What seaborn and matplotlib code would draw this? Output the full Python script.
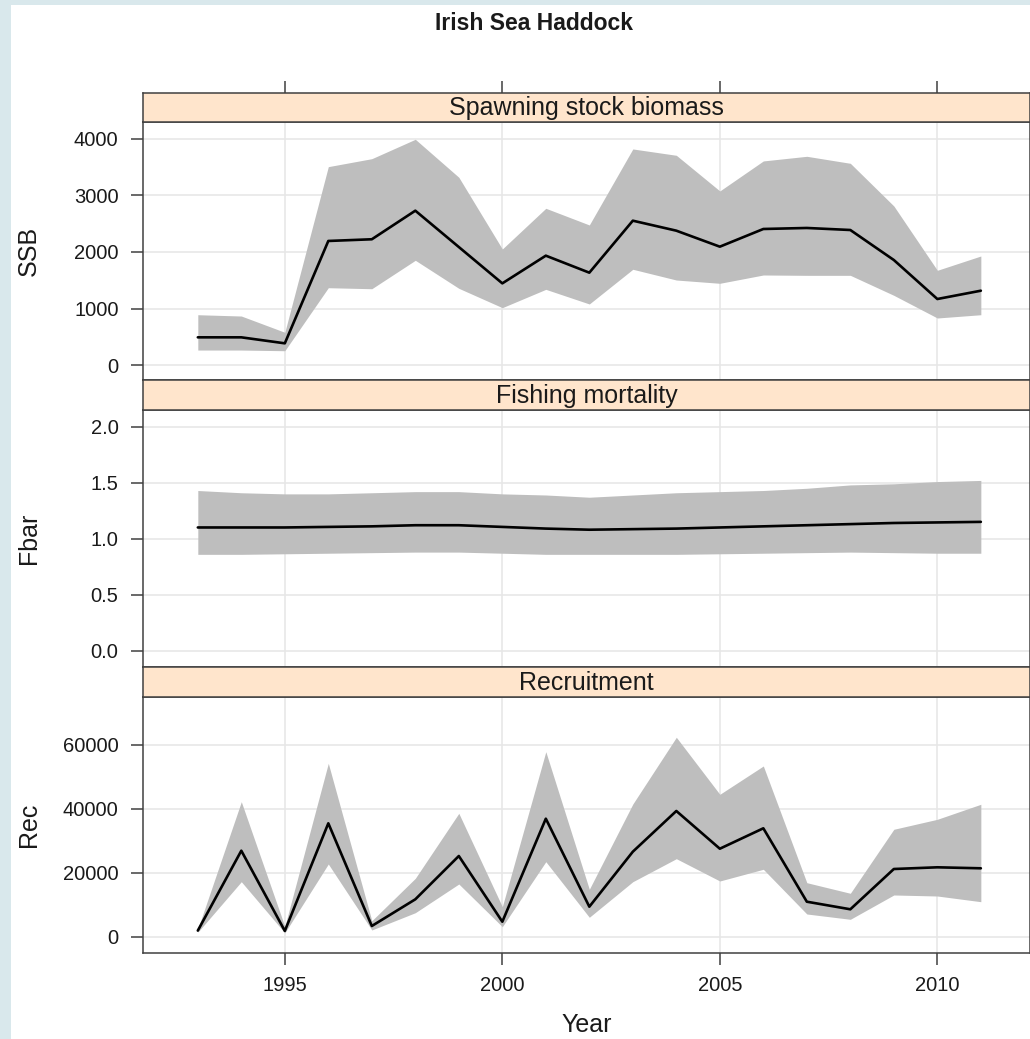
import matplotlib
matplotlib.use('Agg')
import matplotlib.pyplot as plt
from matplotlib.patches import Rectangle
import pandas as pd
import seaborn as sns

# данные
years = list(range(1993, 2012))

ssb = [490, 490, 384, 2195, 2225, 2731, 2088, 1445, 1935, 1634, 2554, 2377, 2094, 2407, 2425, 2389, 1858, 1168, 1315]
ssb_hi = [890, 867, 579, 3510, 3651, 3994, 3322, 2053, 2773, 2478, 3823, 3711, 3080, 3611, 3693, 3569, 2814, 1676, 1929]
ssb_lo = [265, 265, 253, 1368, 1350, 1853, 1357, 1015, 1339, 1080, 1694, 1504, 1446, 1593, 1587, 1587, 1233, 832, 890]

fbar = [1.10, 1.10, 1.10, 1.105, 1.11, 1.12, 1.12, 1.105, 1.09, 1.08, 1.085, 1.09, 1.10, 1.11, 1.12, 1.13, 1.14, 1.145, 1.15]
fbar_hi = [1.43, 1.41, 1.40, 1.40, 1.41, 1.42, 1.42, 1.40, 1.39, 1.37, 1.39, 1.41, 1.42, 1.43, 1.45, 1.48, 1.49, 1.51, 1.52]
fbar_lo = [0.86, 0.86, 0.865, 0.87, 0.875, 0.88, 0.88, 0.87, 0.86, 0.86, 0.86, 0.86, 0.865, 0.87, 0.875, 0.88, 0.875, 0.87, 0.87]

rec = [2000, 26970, 1900, 35530, 3440, 11780, 25310, 4780, 36970, 9470, 26660, 39380, 27590, 33970, 11030, 8660, 21250, 21780, 21470]
rec_hi = [2500, 42280, 3300, 54280, 5090, 18340, 38650, 9470, 57910, 14910, 41560, 62410, 44590, 53440, 16970, 13660, 33660, 36780, 41470]
rec_lo = [1500, 17280, 1300, 22810, 2190, 7590, 16560, 3220, 23530, 6160, 17280, 24470, 17500, 21160, 7190, 5530, 13130, 12810, 11030]

panel_names = ['Spawning stock biomass', 'Fishing mortality', 'Recruitment']
panel_ylabels = ['SSB', 'Fbar', 'Rec']
x_ticks = [1995, 2000, 2005, 2010]

sns.set_theme(style='white')
plt.rcParams['font.family'] = ['Liberation Sans', 'DejaVu Sans']

W, H = 1030, 1039
fig = plt.figure(figsize=(W / 100, H / 100), dpi=100)
fig.patch.set_facecolor('#d9e8ec')
fig.add_artist(Rectangle((11 / W, 0), 1, 1 - 5 / H, transform=fig.transFigure,
                         facecolor='white', edgecolor='none', zorder=-10))

EDGE = '#404040'
GRID = '#e6e6e6'
BAND = '#bebebe'
STRIP = '#ffe5cc'
xlim = (1991.74, 2012.13)

df = pd.DataFrame({'year': years,
                   'SSB': ssb, 'SSB_hi': ssb_hi, 'SSB_lo': ssb_lo,
                   'Fbar': fbar, 'Fbar_hi': fbar_hi, 'Fbar_lo': fbar_lo,
                   'Rec': rec, 'Rec_hi': rec_hi, 'Rec_lo': rec_lo})

# (панель верх, низ, полоска верх) в пикселях
rows = [(122, 380, 93), (410, 667, 380), (697, 953, 667)]
ylims = [(-265, 4300), (-0.146, 2.149), (-5000, 75000)]
yticks = [[0, 1000, 2000, 3000, 4000], [0.0, 0.5, 1.0, 1.5, 2.0], [0, 20000, 40000, 60000]]
ylabfmt = ['{:.0f}', '{:.1f}', '{:.0f}']

left = 143 / W
width = 1 - left

for i, (top, bot, stop) in enumerate(rows):
    var = panel_ylabels[i]
    ax = fig.add_axes([left, 1 - bot / H, width, (bot - top) / H])
    ax.fill_between(df['year'], df[var + '_lo'], df[var + '_hi'], color=BAND, lw=0, zorder=2)
    sns.lineplot(data=df, x='year', y=var, ax=ax, color='black', linewidth=1.9, zorder=3)
    ax.set_xlim(*xlim)
    ax.set_ylim(*ylims[i])
    ax.set_xticks(x_ticks)
    ax.set_yticks(yticks[i])
    ax.set_yticklabels([ylabfmt[i].format(v) for v in yticks[i]])
    ax.grid(True, color=GRID, linewidth=1.1)
    ax.set_axisbelow(True)
    for s in ax.spines.values():
        s.set_color(EDGE)
        s.set_linewidth(1.1)
    ax.tick_params(axis='y', left=True, right=False, direction='out', length=8.6, width=1.1,
                   color=EDGE, pad=9, labelsize=14.5, labelcolor='#1a1a1a')
    ax.set_ylabel(var, fontsize=18, color='#1a1a1a')
    ax.yaxis.set_label_coords(-0.115, 0.5)
    if i == 2:
        ax.tick_params(axis='x', bottom=True, direction='out', length=8.6, width=1.1,
                       color=EDGE, pad=8, labelsize=14.5, labelcolor='#1a1a1a')
        ax.set_xlabel('Year', fontsize=18, color='#1a1a1a')
        ax.xaxis.set_label_coords(0.5, -0.234)
        ax.xaxis.label.set_va('top')
    else:
        ax.tick_params(axis='x', bottom=False, labelbottom=False)
        ax.set_xlabel('')

    # полоска с названием панели
    sax = fig.add_axes([left, 1 - top / H, width, (top - stop) / H])
    sax.set_facecolor(STRIP)
    sax.set_xlim(*xlim)
    sax.set_yticks([])
    for s in sax.spines.values():
        s.set_color(EDGE)
        s.set_linewidth(1.1)
    if i == 0:
        sax.set_xticks(x_ticks)
        sax.tick_params(axis='x', top=True, bottom=False, labeltop=False, labelbottom=False,
                        direction='out', length=8.6, width=1.1, color=EDGE)
    else:
        sax.set_xticks([])
    sax.text(0.5, 0.48, panel_names[i], transform=sax.transAxes, ha='center', va='center',
             fontsize=18, color='#1a1a1a')

fig.text(534 / W, 1 - 23 / H, 'Irish Sea Haddock', ha='center', va='center',
         fontsize=16.5, fontweight='bold', color='#1a1a1a')

fig.savefig('out.png', dpi=100, facecolor=fig.get_facecolor())
